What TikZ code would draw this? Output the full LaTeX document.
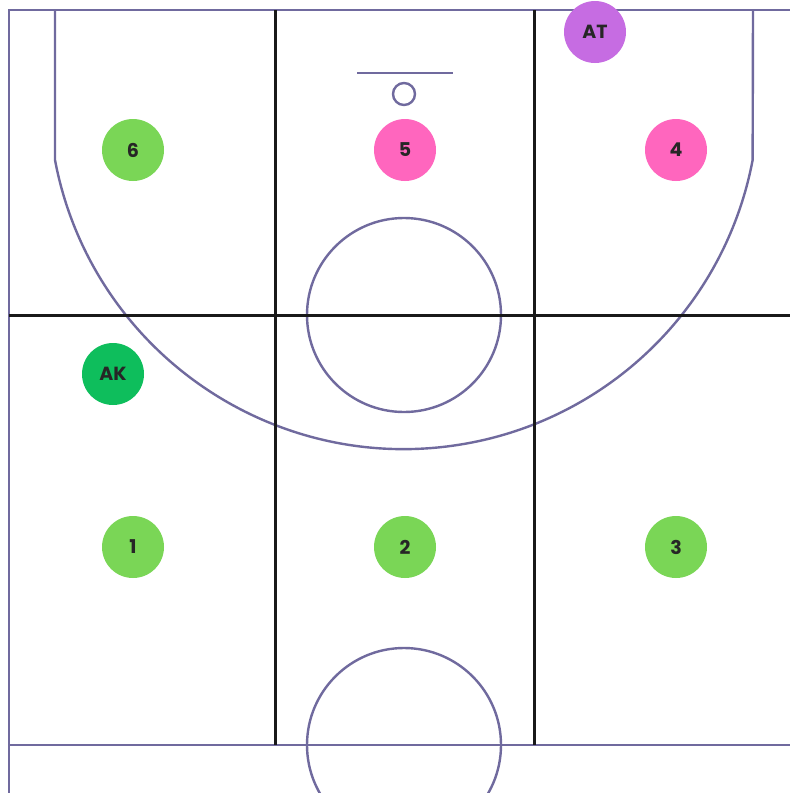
\documentclass[tikz,border=0pt]{standalone}
\usepackage{fontspec}
\setmainfont{Poppins}
\usepackage{tikz}
\usetikzlibrary{positioning}
\definecolor{courtline}{RGB}{112, 106, 158}
\definecolor{zoneline}{RGB}{25, 25, 25}
\definecolor{spotgreen}{RGB}{122, 214, 86}
\definecolor{spotpink}{RGB}{255, 102, 190}
\definecolor{spotpurple}{RGB}{198, 108, 226}
\definecolor{spotdark}{RGB}{14, 190, 92}

\begin{document}
\begin{tikzpicture}[
  x=1pt, y=-1pt,
  court/.style={draw=courtline, line width=2.4pt},
  zone/.style={draw=zoneline, line width=3pt},
  spot/.style={circle, minimum size=62pt, inner sep=0pt,
               font=\fontsize{19}{21}\selectfont\bfseries, text=black!85}
]
  \useasboundingbox[fill=white] (0,0) rectangle (790,793);
  \clip (0,0) rectangle (790,793);

  % court outline and markings
  \draw[court] (790,10) -- (9,10) -- (9,793);
  \draw[court] (9,745) -- (790,745);
  \draw[court] (55,10) -- (55,160)
    arc[start angle=169.3, end angle=10.7, radius=355] -- (753,10);
  \draw[court] (357,73) -- (453,73);
  \draw[court] (404,94) circle[radius=11];
  \draw[court] (404,315) circle[radius=97];
  \draw[court] (404,745) circle[radius=97];

  % zones
  \draw[zone] (9,315) -- (790,315);
  \draw[zone] (275,10) -- (275,745);
  \draw[zone] (534,10) -- (534,745);

  % spots
  \node[spot, fill=spotgreen] (six) at (133,150) {6};
  \node[spot, fill=spotpink] (five) at (405,150) {5};
  \node[spot, fill=spotpink] (four) at (676,150) {4};
  \node[spot, fill=spotpurple] (at) at (595,32) {AT};
  \node[spot, fill=spotdark] (ak) at (113,374) {AK};
  \node[spot, fill=spotgreen] (one) at (133,547) {1};
  \node[spot, fill=spotgreen] (two) at (405,547) {2};
  \node[spot, fill=spotgreen] (three) at (676,547) {3};
\end{tikzpicture}
\end{document}
